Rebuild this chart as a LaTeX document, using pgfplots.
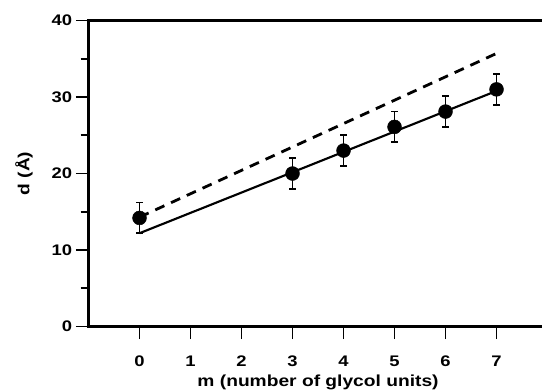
\documentclass[border=0pt]{standalone}
\usepackage{fontspec}
\setmainfont{Liberation Sans}[FakeStretch=1.2]
\usepackage{pgfplots}
\pgfplotsset{compat=1.18}
\begin{document}
\begin{tikzpicture}
\useasboundingbox (-66.4pt,-47.5pt) rectangle (340.1pt,244.9pt);
\begin{axis}[
  at={(0,0)}, anchor=south west,
  scale only axis, width=344.25pt, height=229.5pt,
  xmin=-1, xmax=8, ymin=0, ymax=40,
  tick pos=left, tick align=outside,
  major tick length=9.5pt, minor tick length=6pt,
  xtick={0,...,7}, ytick={0,10,...,40}, minor ytick={5,15,25,35},
  every tick/.style={black, line width=1.3pt},
  axis line style={line width=1.6pt},
  /pgf/number format/assume math mode=true,
  ticklabel style={font=\bfseries\fontsize{11.5}{13}\selectfont},
  yticklabel style={anchor=east, inner sep=0pt, xshift=-2.6pt},
  xticklabel style={anchor=north, inner sep=0pt, yshift=-12pt},
  xlabel={m (number of glycol units)},
  ylabel={d (Å)},
  every axis x label/.style={at={(axis description cs:0.5,-0.182)}, anchor=center, font=\bfseries\fontsize{12}{14}\selectfont},
  every axis y label/.style={at={(axis description cs:-0.1406,0.5)}, anchor=center, rotate=90, font=\bfseries\fontsize{12}{14}\selectfont},
  clip=false,
]
\addplot[black, line width=2.1pt, dash pattern=on 7.5pt off 5.5pt] coordinates {(0,14.3) (7,35.7)};
\addplot[black, line width=1.6pt] coordinates {(0,12.2) (7,30.8)};
\addplot[black, only marks, mark=*, mark size=5.2pt,
  error bars/.cd, y dir=both, y explicit,
  error bar style={line width=1.3pt},
  error mark options={rotate=90, mark size=2.6pt, line width=1.3pt}]
  coordinates {
  (0,14.2) +- (0,2)
  (3,20.0) +- (0,2)
  (4,23.0) +- (0,2)
  (5,26.1) +- (0,2)
  (6,28.1) +- (0,2)
  (7,31.0) +- (0,2)
  };
\end{axis}
\end{tikzpicture}
\end{document}
